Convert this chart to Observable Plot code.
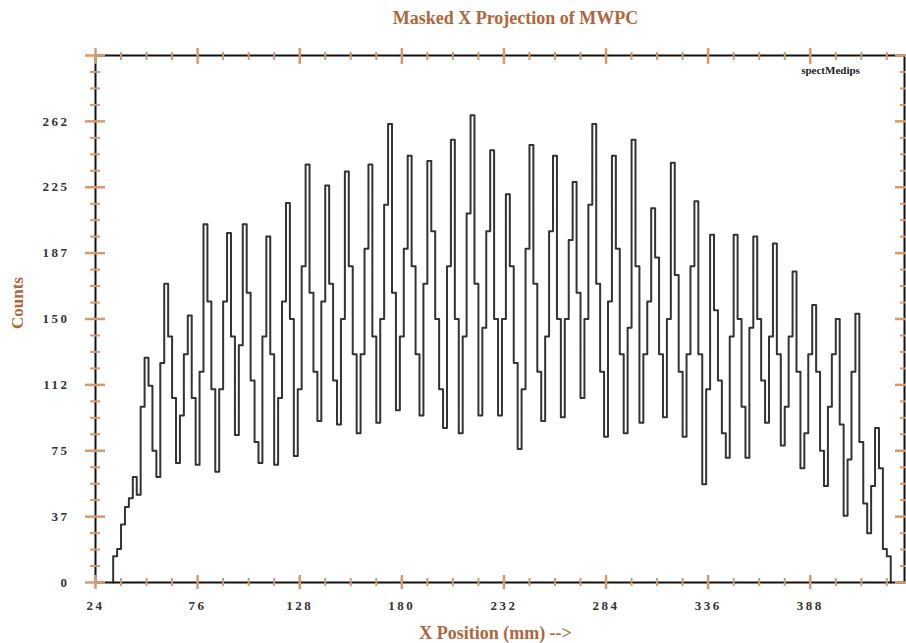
<!DOCTYPE html>
<html>
<head>
<meta charset="utf-8">
<script src="https://cdn.jsdelivr.net/npm/d3@7"></script>
<script src="https://cdn.jsdelivr.net/npm/@observablehq/plot@0.6"></script>
<style>
  html, body { margin: 0; padding: 0; background: #ffffff; }
  #chart { width: 906px; height: 643px; overflow: hidden; }
  #chart g[aria-label="title"] text,
  #chart g[aria-label="xlabel"] text { letter-spacing: 1px; }
  #chart g[aria-label="ylabel"] text { letter-spacing: 0.5px; }
  #chart g[aria-label="corner"] text { letter-spacing: 1.5px; }
  #chart g[aria-label$="tick label"] text { letter-spacing: 2.5px; }
</style>
</head>
<body>
<div id="chart"></div>
<script>
// ---- data ----
const titleText = "Masked X Projection of MWPC";
const xLabelText = "X Position (mm) -->";
const yLabelText = "Counts";
const cornerText = "spectMedips";

const binStart = 33;   // mm, left edge of first bin
const binWidth = 2;    // mm
const counts = [
  15,19,33,43,48,60,50,100,128,112,
  75,60,125,170,140,105,68,95,130,152,
  105,67,120,204,160,110,63,110,160,199,
  140,84,135,204,165,115,80,68,140,197,
  130,67,105,160,216,150,72,110,180,238,
  165,120,92,160,226,170,115,90,150,234,
  180,130,85,130,190,238,140,91,150,215,
  261,165,98,140,190,243,180,130,95,170,
  240,200,150,110,88,180,252,150,85,140,
  210,266,170,95,145,200,246,150,95,150,
  221,180,125,76,110,190,249,170,120,92,
  140,200,243,150,94,150,195,228,165,105,
  150,215,261,170,120,83,160,243,190,130,
  85,145,252,180,91,130,160,213,185,130,
  94,150,239,175,120,83,130,180,217,130,
  56,110,198,155,115,85,71,140,198,150,
  100,71,145,197,150,115,91,140,193,130,
  78,100,140,177,120,65,85,130,158,120,
  75,55,100,130,150,90,38,70,120,153,
  80,45,28,55,88,65,19,15
];

const xMajorTicks = [24, 76, 128, 180, 232, 284, 336, 388];
const xTickLabels = ["24", "76", "128", "180", "232", "284", "336", "388"];
const yMajorTicks = [0, 37.5, 75, 112.5, 150, 187.5, 225, 262.5, 300];
const yTickLabels = ["0", "37", "75", "112", "150", "187", "225", "262", ""];
const xDomain = [24, 436];
const yDomain = [0, 300];

// ---- derived ----
const points = [{x: binStart, y: 0}];
counts.forEach((c, i) => points.push({x: binStart + i * binWidth, y: c}));
points.push({x: binStart + counts.length * binWidth, y: 0});

const xMinor = d3.range(xDomain[0], xDomain[1] + 0.01, 13).filter(v => !xMajorTicks.includes(v));
const yMinor = d3.range(0, 300.01, 9.375).filter(v => !yMajorTicks.includes(v));

const tickColor = "#d49a70";
const brown = "#b0663c";
const serif = "'Liberation Serif', 'DejaVu Serif', serif";

const plot = Plot.plot({
  width: 906,
  height: 643,
  marginLeft: 95,
  marginRight: 2,
  marginTop: 55,
  marginBottom: 61,
  style: {fontFamily: serif, background: "#ffffff", overflow: "visible"},
  x: {domain: xDomain, label: null},
  y: {domain: yDomain, label: null},
  marks: [
    // histogram
    Plot.line(points, {x: "x", y: "y", curve: "step-after", stroke: "#333", strokeWidth: 2}),
    // frame
    Plot.frame({stroke: "#111", strokeWidth: 2}),
    // left axis ticks
    Plot.axisY({ticks: yMinor, anchor: "left", tickSize: 10, dx: 5, fill: "none", stroke: tickColor, strokeWidth: 2, label: null}),
    Plot.axisY({ticks: yMajorTicks, anchor: "left", tickSize: 20, dx: 10, fill: "none", stroke: tickColor, strokeWidth: 2.5, label: null}),
    Plot.axisY({ticks: yMajorTicks, anchor: "left", tickSize: 0, tickPadding: 26,
      tickFormat: d => yTickLabels[yMajorTicks.indexOf(d)],
      fill: "#333", fontSize: 13, fontWeight: "bold", label: null}),
    // right axis ticks
    Plot.axisY({ticks: yMinor, anchor: "right", tickSize: 10, dx: -5, fill: "none", stroke: tickColor, strokeWidth: 2, label: null}),
    Plot.axisY({ticks: yMajorTicks, anchor: "right", tickSize: 20, dx: -10, fill: "none", stroke: tickColor, strokeWidth: 2.5, label: null}),
    // bottom axis ticks
    Plot.axisX({ticks: xMinor, anchor: "bottom", tickSize: 8, dy: -4, fill: "none", stroke: tickColor, strokeWidth: 2, label: null}),
    Plot.axisX({ticks: xMajorTicks, anchor: "bottom", tickSize: 14, dy: -7, fill: "none", stroke: tickColor, strokeWidth: 2.5, label: null}),
    Plot.axisX({ticks: xMajorTicks, anchor: "bottom", tickSize: 0, tickPadding: 18,
      tickFormat: d => xTickLabels[xMajorTicks.indexOf(d)],
      fill: "#333", fontSize: 13, fontWeight: "bold", label: null}),
    // top axis ticks
    Plot.axisX({ticks: xMinor, anchor: "top", tickSize: 8, dy: 4, fill: "none", stroke: tickColor, strokeWidth: 2, label: null}),
    Plot.axisX({ticks: xMajorTicks, anchor: "top", tickSize: 16, dy: 8, fill: "none", stroke: tickColor, strokeWidth: 2.5, label: null}),
    // texts
    Plot.text([titleText], {text: d => d, frameAnchor: "top-left", dx: 420, dy: -37, ariaLabel: "title",
      textAnchor: "middle", lineAnchor: "middle", fill: brown, fontSize: 18, fontWeight: "bold"}),
    Plot.text([yLabelText], {text: d => d, frameAnchor: "left", dx: -78, dy: -16, rotate: -90, ariaLabel: "ylabel",
      textAnchor: "middle", lineAnchor: "middle", fill: brown, fontSize: 17, fontWeight: "bold"}),
    Plot.text([xLabelText], {text: d => d, frameAnchor: "bottom-left", dx: 400, dy: 51, ariaLabel: "xlabel",
      textAnchor: "middle", lineAnchor: "middle", fill: brown, fontSize: 18, fontWeight: "bold"}),
    Plot.text([cornerText], {text: d => d, frameAnchor: "top-left", dx: 735, dy: 15, ariaLabel: "corner",
      textAnchor: "middle", lineAnchor: "middle", fill: "#222", fontSize: 11, fontWeight: "bold"})
  ]
});
document.getElementById("chart").appendChild(plot);
</script>
</body>
</html>
